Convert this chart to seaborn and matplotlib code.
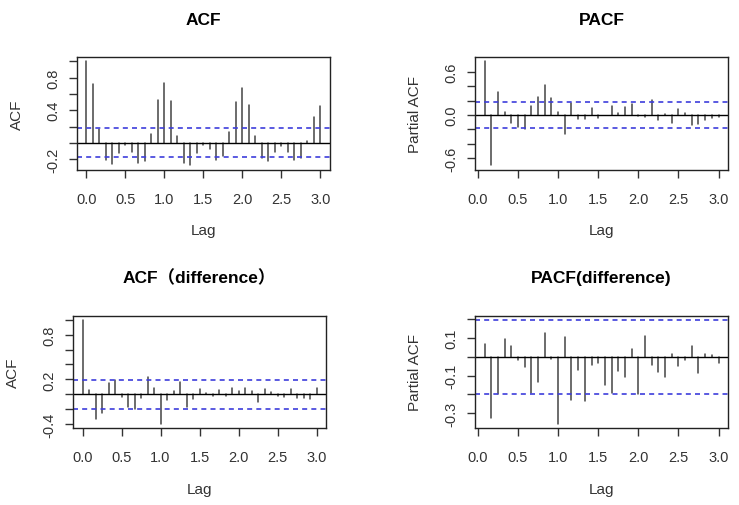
import numpy as np
import pandas as pd
import matplotlib
matplotlib.use("Agg")
import matplotlib.pyplot as plt
import seaborn as sns

# monthly series, lag shown in years (frequency 12)
lags_acf = np.arange(0, 37) / 12
lags_pacf = np.arange(1, 37) / 12

acf_vals = [1.0, 0.72, 0.17, -0.21, -0.26, -0.12, -0.02, -0.11, -0.25, -0.22,
            0.11, 0.53, 0.735, 0.51, 0.08, -0.24, -0.275, -0.12, -0.02, -0.08,
            -0.21, -0.16, 0.135, 0.50, 0.67, 0.46, 0.08, -0.19, -0.22, -0.11,
            -0.04, -0.11, -0.205, -0.19, 0.025, 0.32, 0.45]

pacf_vals = [0.745, -0.70, 0.32, 0.047, -0.11, -0.17, -0.19, 0.12, 0.25, 0.42,
             0.24, 0.047, -0.26, 0.16, -0.05, -0.05, 0.09, -0.04, 0.005, 0.125,
             0.03, 0.11, 0.15, -0.02, -0.03, 0.21, -0.075, 0.02, -0.11, 0.085,
             0.03, -0.14, -0.125, -0.075, -0.045, -0.03]

acf_diff_vals = [1.0, 0.06, -0.33, -0.25, 0.155, 0.19, -0.035, -0.17, -0.20, -0.055,
                 0.235, 0.085, -0.40, -0.08, 0.04, 0.165, -0.17, -0.07, 0.065, 0.02,
                 -0.02, 0.06, -0.02, 0.09, 0.045, 0.09, 0.04, -0.105, 0.075, 0.03,
                 -0.02, -0.035, 0.065, -0.055, -0.055, -0.07, 0.085]

pacf_diff_vals = [0.069, -0.326, -0.20, 0.092, 0.055, -0.018, -0.056, -0.192, -0.132, 0.125,
                  -0.01, -0.356, 0.102, -0.227, -0.07, -0.233, -0.042, -0.035, -0.15, -0.192,
                  -0.074, -0.109, 0.041, -0.198, 0.111, -0.042, -0.083, -0.109, 0.016, -0.048,
                  -0.018, 0.055, -0.088, 0.016, 0.007, -0.032]

ci_orig = 0.177
ci_diff = 0.195

x_ticks = [0.0, 0.5, 1.0, 1.5, 2.0, 2.5, 3.0]

sns.set_theme(style="ticks")
plt.rcParams["font.family"] = ["Liberation Sans", "Noto Sans CJK SC", "DejaVu Sans"]

TXT = "#333333"


def r_range(lo, hi):
    pad = (hi - lo) * 0.04
    return lo - pad, hi + pad


def draw_panel(ax, lags, vals, ci, title, ylabel, yticks, shown):
    vals = np.asarray(vals)
    # stems as two-point lines per lag
    df = pd.DataFrame({
        "lag": np.repeat(lags, 2),
        "value": np.column_stack([np.zeros(len(vals)), vals]).ravel(),
    })
    sns.lineplot(data=df, x="lag", y="value", units="lag", estimator=None,
                 color="#444444", lw=1.1, ax=ax, legend=False)
    ax.axhline(0, color="black", lw=1.0)
    for c in (ci, -ci):
        ax.axhline(c, color="#3d3ddb", lw=1.2, ls=(0, (3.0, 2.5)))

    ax.set_xlim(*r_range(lags.min(), lags.max()))
    ax.set_ylim(*r_range(min(vals.min(), -ci), max(vals.max(), ci)))

    ax.set_xticks(x_ticks)
    ax.set_xticklabels([f"{t:.1f}" for t in x_ticks])
    ax.set_yticks(yticks)
    ax.set_yticklabels([f"{t:.1f}" if t in shown else "" for t in yticks],
                       rotation=90, va="center")
    ax.tick_params(axis="both", direction="out", length=6, width=1,
                   color="#333333", labelsize=10.5, labelcolor=TXT)
    ax.tick_params(axis="x", pad=10)
    ax.tick_params(axis="y", pad=6)
    for sp in ax.spines.values():
        sp.set_visible(True)
        sp.set_color("#222222")
        sp.set_linewidth(1.0)

    ax.set_title(title, fontsize=12.5, fontweight="bold", color="black", pad=24)
    ax.set_xlabel("Lag", fontsize=11, color=TXT)
    ax.set_ylabel(ylabel, fontsize=11, color=TXT)
    ax.xaxis.set_label_coords(0.5, -0.48)
    ax.yaxis.set_label_coords(-0.21, 0.5)


fig = plt.figure(figsize=(7.39, 5.06), dpi=100)
fig.patch.set_facecolor("white")

w, h = 0.342, 0.222
ax1 = fig.add_axes([0.104, 0.663, w, h])
ax2 = fig.add_axes([0.643, 0.663, w, h])
ax3 = fig.add_axes([0.099, 0.152, w, h])
ax4 = fig.add_axes([0.643, 0.152, w, h])

draw_panel(ax1, lags_acf, acf_vals, ci_orig, "ACF", "ACF",
           [-0.2, 0.0, 0.2, 0.4, 0.6, 0.8, 1.0], [-0.2, 0.4, 0.8])
draw_panel(ax2, lags_pacf, pacf_vals, ci_orig, "PACF", "Partial ACF",
           [-0.6, -0.4, -0.2, 0.0, 0.2, 0.4, 0.6], [-0.6, 0.0, 0.6])
draw_panel(ax3, lags_acf, acf_diff_vals, ci_diff, "ACF（difference）", "ACF",
           [-0.4, -0.2, 0.0, 0.2, 0.4, 0.6, 0.8, 1.0], [-0.4, 0.2, 0.8])
draw_panel(ax4, lags_pacf, pacf_diff_vals, ci_diff, "PACF(difference)", "Partial ACF",
           [-0.3, -0.2, -0.1, 0.0, 0.1, 0.2], [-0.3, -0.1, 0.1])

fig.savefig("out.png", dpi=100, facecolor="white")
